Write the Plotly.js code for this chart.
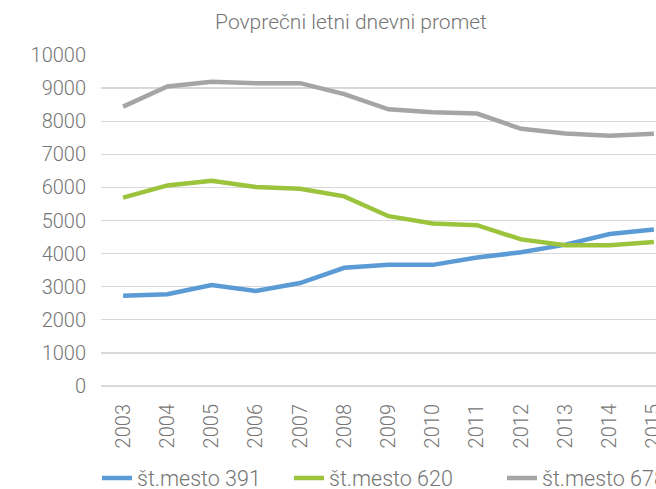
<!DOCTYPE html>
<html>
<head>
<meta charset="utf-8">
<script src="https://cdn.plot.ly/plotly-3.0.1.min.js"></script>
<style>
  html, body { margin: 0; padding: 0; overflow: hidden; background: #fff; }
  #chart { width: 702px; height: 489px; }
</style>
</head>
<body>
<div id="chart"></div>
<script>
// years on the x axis
var years = ["2003", "2004", "2005", "2006", "2007", "2008", "2009",
             "2010", "2011", "2012", "2013", "2014", "2015"];

// average daily traffic per counting station
var mesto391 = [2730, 2770, 3050, 2870, 3110, 3570, 3660, 3660, 3880, 4040, 4270, 4590, 4730];
var mesto620 = [5690, 6060, 6200, 6010, 5960, 5730, 5130, 4910, 4860, 4430, 4250, 4250, 4350];
var mesto678 = [8440, 9050, 9190, 9150, 9150, 8820, 8360, 8270, 8230, 7770, 7630, 7560, 7620];

var seriesNames = ["št.mesto 391", "št.mesto 620", "št.mesto 678"];
var seriesColors = ["#5B9BD5", "#9BC33C", "#A5A5A5"];
var seriesValues = [mesto391, mesto620, mesto678];
var legendIds = ["legend", "legend2", "legend3"];

var data = seriesValues.map(function (vals, i) {
  return {
    x: years,
    y: vals,
    name: seriesNames[i],
    legend: legendIds[i],
    type: "scatter",
    mode: "lines",
    line: { color: seriesColors[i], width: 4.5 }
  };
});

var txtFont = { family: "Roboto, sans-serif", weight: 300, color: "#757575" };

// the chart is wider than the 656px window, as in the cropped original
var layout = {
  width: 702,
  height: 489,
  margin: { l: 101, r: 26, t: 55, b: 103, autoexpand: false },
  paper_bgcolor: "#fff",
  plot_bgcolor: "#fff",
  title: {
    text: "Povprečni letni dnevni promet",
    x: 0.5, xref: "container",
    y: 1 - 22 / 489, yref: "container", yanchor: "middle",
    font: Object.assign({}, txtFont, { size: 21 })
  },
  xaxis: {
    type: "category",
    range: [-0.5, 12.5],
    tickangle: -90,
    showgrid: false,
    showline: false,
    ticks: "",
    zeroline: false,
    ticklabelstandoff: 13,
    tickfont: Object.assign({}, txtFont, { size: 20 })
  },
  yaxis: {
    range: [0, 10000],
    dtick: 1000,
    tickformat: "d",
    showgrid: true,
    gridcolor: "#D9D9D9",
    gridwidth: 1.3,
    zeroline: true,
    zerolinecolor: "#D9D9D9",
    zerolinewidth: 1.3,
    showline: false,
    ticks: "",
    ticklabelstandoff: 14,
    tickfont: Object.assign({}, txtFont, { size: 20 })
  },
  showlegend: true
};

// one legend box per series so each entry sits where it does in the original
var legendLeft = [97, 289, 502];
legendIds.forEach(function (id, i) {
  layout[id] = {
    orientation: "h",
    x: (legendLeft[i] - 101) / 575, xanchor: "left",
    y: -(478 - 386) / 331, yanchor: "middle",
    bgcolor: "rgba(0,0,0,0)",
    font: Object.assign({}, txtFont, { size: 21.5 }),
    itemwidth: 30
  };
});

Plotly.newPlot("chart", data, layout, { displayModeBar: false, staticPlot: true });
</script>
</body>
</html>
